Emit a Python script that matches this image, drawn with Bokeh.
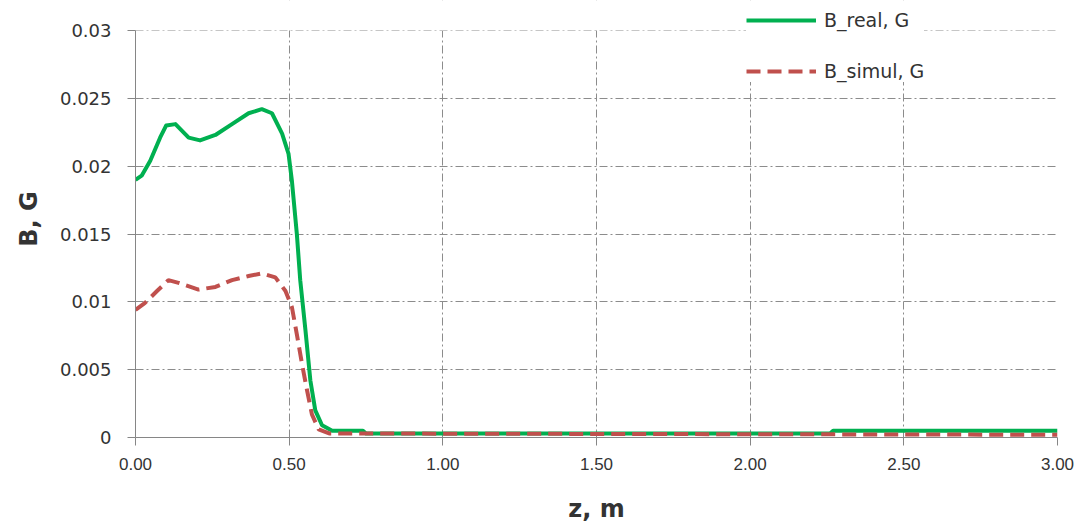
from bokeh.plotting import figure
from bokeh.models import (Range1d, FixedTicker, NumeralTickFormatter, CustomJSTickFormatter,
                          Legend, LegendItem, BoxAnnotation)
from bokeh.embed import file_html
from bokeh.resources import INLINE

# Axial magnetic field profile along z
z_real = [0.0, 0.02, 0.048, 0.08, 0.10, 0.13, 0.173, 0.21, 0.26, 0.314, 0.368, 0.411,
          0.444, 0.477, 0.498, 0.509, 0.525, 0.536, 0.553, 0.569, 0.585, 0.607, 0.64,
          0.74, 0.75, 2.26, 2.27, 3.0]
b_real = [0.0190, 0.0193, 0.0204, 0.0221, 0.0230, 0.0231, 0.0221, 0.0219, 0.0223, 0.0231,
          0.0239, 0.0242, 0.0239, 0.0224, 0.0209, 0.0189, 0.0150, 0.0116, 0.0079, 0.0042,
          0.0020, 0.0009, 0.0005, 0.0005, 0.0003, 0.0003, 0.0005, 0.0005]

z_simul = [0.0, 0.03, 0.07, 0.107, 0.14, 0.205, 0.26, 0.314, 0.368, 0.411, 0.455, 0.488,
           0.509, 0.525, 0.542, 0.558, 0.574, 0.596, 0.63, 3.0]
b_simul = [0.0094, 0.0099, 0.0108, 0.0116, 0.0114, 0.0109, 0.0111, 0.0116, 0.0119, 0.0121,
           0.0118, 0.0108, 0.0096, 0.0076, 0.0054, 0.0035, 0.0017, 0.0006, 0.0003, 0.0002]

x_ticks = [0.0, 0.5, 1.0, 1.5, 2.0, 2.5, 3.0]
y_ticks = [0.0, 0.005, 0.01, 0.015, 0.02, 0.025, 0.03]
Y_MAX = 0.03

TEXT = "#333333"
AXIS = "#868686"

# the frame reaches a little above Y_MAX so the legend can sit over the top edge
p = figure(width=1086, height=532, output_backend="svg", toolbar_location=None,
           x_range=Range1d(0, 3), y_range=Range1d(0, Y_MAX * 437 / 407),
           min_border_left=135, min_border_right=29, min_border_top=0, min_border_bottom=95)
p.outline_line_color = None
p.background_fill_color = "white"

# grid
for g in (p.xgrid, p.ygrid):
    g.grid_line_color = "#8c8c8c"
    g.grid_line_dash = "8 3 2 3"
    g.grid_line_width = 1

# blank strip above the top of the value axis
p.add_layout(BoxAnnotation(bottom=Y_MAX, fill_color="white", fill_alpha=1.0,
                           line_color=None, level="underlay"))

p.xaxis.ticker = FixedTicker(ticks=x_ticks)
p.yaxis.ticker = FixedTicker(ticks=y_ticks)
p.yaxis.bounds = (0, Y_MAX)
p.xaxis.formatter = NumeralTickFormatter(format="0.00")
p.yaxis.formatter = CustomJSTickFormatter(code="return String(parseFloat(tick.toFixed(4)));")

for ax in (p.xaxis, p.yaxis):
    ax.axis_line_color = AXIS
    ax.major_tick_line_color = AXIS
    ax.major_tick_out = 8
    ax.major_tick_in = 0
    ax.minor_tick_line_color = None
    ax.major_label_text_color = TEXT
    ax.axis_label_text_color = TEXT
    ax.axis_label_text_font = "DejaVu Sans"
    ax.axis_label_text_font_style = "bold"
    ax.axis_label_text_font_size = "24px"

p.xaxis.major_label_text_font = "Liberation Sans"
p.xaxis.major_label_text_font_size = "17px"
p.xaxis.major_label_standoff = 12
p.xaxis.axis_label = "z, m"
p.xaxis.axis_label_standoff = 22

p.yaxis.major_label_text_font = "DejaVu Sans"
p.yaxis.major_label_text_font_size = "18px"
p.yaxis.major_label_standoff = 16
p.yaxis.axis_label = "B, G"
p.yaxis.axis_label_standoff = 14

r_real = p.line(z_real, b_real, line_color="#00B050", line_width=4, line_join="round")
r_simul = p.line(z_simul, b_simul, line_color="#C0504D", line_width=4, line_dash="14 7")

legend = Legend(items=[LegendItem(label="B_real, G", renderers=[r_real]),
                       LegendItem(label="B_simul, G", renderers=[r_simul])],
                location=(611, 355), orientation="vertical")
legend.border_line_color = None
legend.background_fill_color = "white"
legend.background_fill_alpha = 1.0
legend.label_text_font = "DejaVu Sans"
legend.label_text_font_size = "19px"
legend.label_text_color = TEXT
legend.glyph_width = 70
legend.glyph_height = 20
legend.label_height = 20
legend.label_standoff = 8
legend.spacing = 29
legend.padding = 6
legend.margin = 0
p.add_layout(legend, "center")

open("out.html", "w").write(file_html(p, INLINE))
